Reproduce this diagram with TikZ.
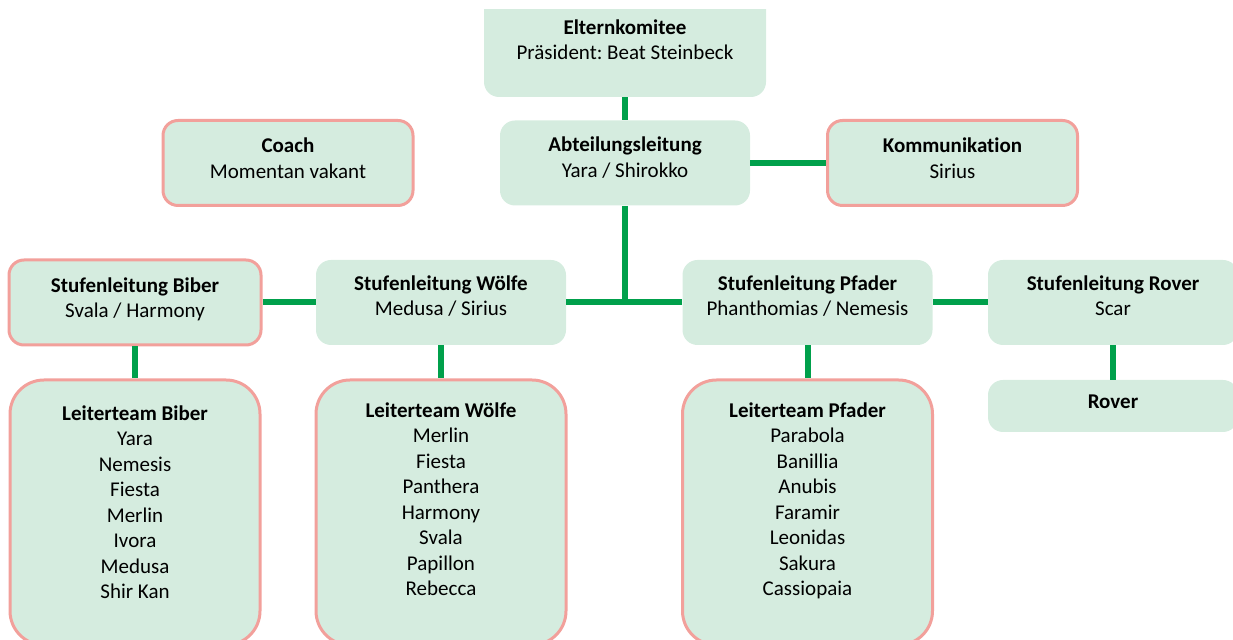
\documentclass[tikz,border=0pt]{standalone}
\usepackage{fontspec}
\setmainfont{Carlito}[Ligatures=NoCommon]
\frenchspacing
\usetikzlibrary{positioning}

\definecolor{boxfill}{HTML}{D5ECDF}
\definecolor{boxline}{HTML}{F2A09B}
\definecolor{linkgreen}{HTML}{00A04B}

% lifts the text of a box by half the given length
\newcommand\liftby[1]{\rule[-#1]{0pt}{0pt}}

\tikzset{
  orgbox/.style={fill=boxfill, rounded corners=7.5pt, align=center,
    inner sep=0pt, minimum width=125pt, minimum height=42.5pt,
    font=\fontsize{10.5}{12.75}\selectfont},
  framed/.style={draw=boxline, line width=1.5pt},
  teambox/.style={orgbox, framed, rounded corners=17pt, minimum height=132.5pt},
  link/.style={draw=linkgreen, line width=3pt},
}

\begin{document}
\begin{tikzpicture}[x=0.5pt, y=-0.5pt]
\useasboundingbox (0,0) rectangle (1233,640);
\clip (0,0) rectangle (1233,640);

% top (cut off at its upper edge)
\begin{scope}
\clip (0,10) rectangle (1233,640);
\node[orgbox, minimum width=141pt, minimum height=53.5pt] (eltern) at (625,43.5)
  {\textbf{Elternkomitee}\\Präsident: Beat Steinbeck\liftby{4pt}};
\end{scope}
\node[orgbox] (abt) at (625,163) {\textbf{Abteilungsleitung}\\Yara / Shirokko\liftby{6pt}};
\node[orgbox, framed] (coach) at (288,163) {\textbf{Coach}\\Momentan vakant\liftby{5pt}};
\node[orgbox, framed] (komm) at (952.5,163) {\textbf{Kommunikation}\\Sirius\liftby{5pt}};

% stufen
\node[orgbox, framed, minimum width=126pt] (sbiber) at (135,302.5)
  {\textbf{Stufenleitung Biber}\\Svala / Harmony\liftby{5pt}};
\node[orgbox] (swoelfe) at (441,302.5) {\textbf{Stufenleitung Wölfe}\\Medusa / Sirius\liftby{7pt}};
\node[orgbox] (spfader) at (807.5,302.5) {\textbf{Stufenleitung Pfader}\\Phanthomias / Nemesis\liftby{7pt}};
\node[orgbox] (srover) at (1113,302.5) {\textbf{Stufenleitung Rover}\\Scar\liftby{7pt}};
\node[orgbox, minimum height=26pt] (rover) at (1113,406) {\textbf{Rover}\liftby{4pt}};

% leiterteams
\node[teambox] (lbiber) at (135,512.5)
  {\textbf{Leiterteam Biber}\\Yara\\Nemesis\\Fiesta\\Merlin\\Ivora\\Medusa\\Shir Kan\liftby{10.5pt}};
\node[teambox] (lwoelfe) at (441,512.5)
  {\textbf{Leiterteam Wölfe}\\Merlin\\Fiesta\\Panthera\\Harmony\\Svala\\Papillon\\Rebecca\liftby{13.5pt}};
\node[teambox] (lpfader) at (807.5,512.5)
  {\textbf{Leiterteam Pfader}\\Parabola\\Banillia\\Anubis\\Faramir\\Leonidas\\Sakura\\Cassiopaia\liftby{13.5pt}};

% connectors
\draw[link] (eltern) -- (abt);
\draw[link] (abt) -- (komm);
\draw[link] (abt.south) -- (abt.south |- swoelfe.east);
\draw[link] (swoelfe) -- (spfader);
\draw[link] (sbiber) -- (swoelfe);
\draw[link] (spfader) -- (srover);
\draw[link] (sbiber) -- (lbiber);
\draw[link] (swoelfe) -- (lwoelfe);
\draw[link] (spfader) -- (lpfader);
\draw[link] (srover) -- (rover);
\end{tikzpicture}
\end{document}
